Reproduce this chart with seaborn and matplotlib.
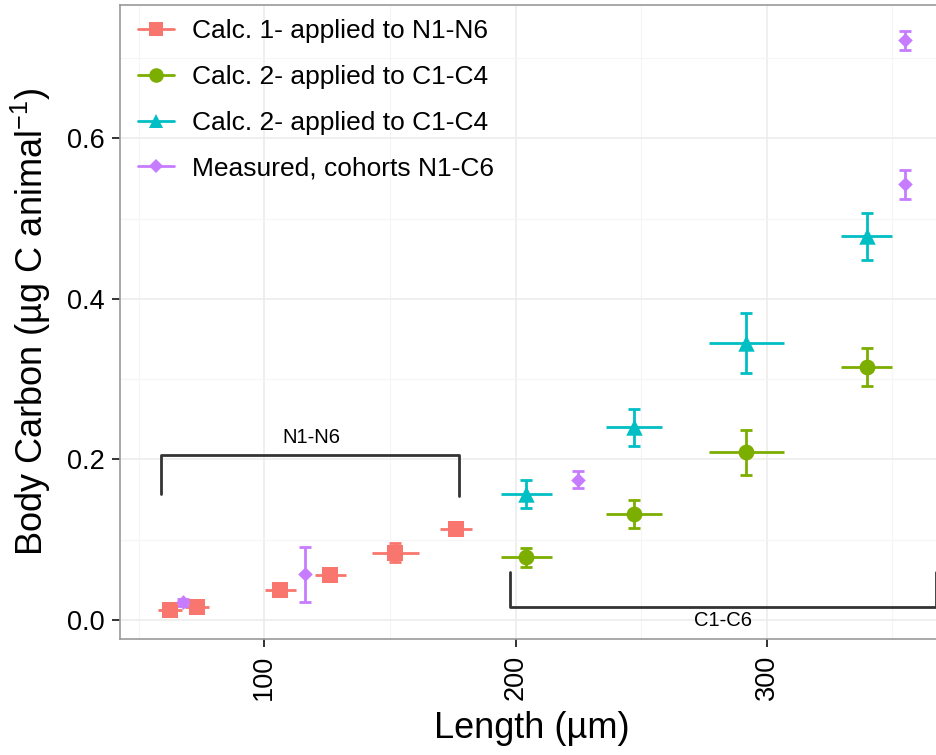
import matplotlib
matplotlib.use('Agg')
import matplotlib.pyplot as plt
import matplotlib.ticker as mticker
from matplotlib.lines import Line2D
import pandas as pd
import seaborn as sns

# --- dados ---
calc1_len = [62.5, 73.3, 106.4, 126.3, 152.2, 176.3]
calc1_carbon = [0.012, 0.016, 0.037, 0.056, 0.084, 0.114]
calc1_len_err = [4.9, 4.8, 6.1, 6.2, 9.2, 6.2]
calc1_carbon_err = [0.004, 0.004, 0.005, 0.005, 0.012, 0.006]

cop_len = [204.3, 247.0, 291.9, 339.7]
cop_len_err = [10.1, 11.1, 15.1, 10.3]
calc2a_carbon = [0.078, 0.132, 0.209, 0.315]
calc2a_carbon_err = [0.0115, 0.017, 0.028, 0.024]
calc2b_carbon = [0.157, 0.240, 0.345, 0.478]
calc2b_carbon_err = [0.0175, 0.023, 0.037, 0.029]

meas_len = [67.6, 116.3, 224.9, 355.1, 355.1]
meas_carbon = [0.022, 0.057, 0.175, 0.543, 0.722]
meas_carbon_err = [0.004, 0.034, 0.011, 0.018, 0.012]

labels = ['Calc. 1- applied to N1-N6', 'Calc. 2- applied to C1-C4',
          'Calc. 2- applied to C1-C4', 'Measured, cohorts N1-C6']
cores = ['#F8766D', '#7CAE00', '#00BFC4', '#C77CFF']
marcadores = ['s', 'o', '^', 'D']
tamanhos = [130, 130, 140, 55]

# colchetes (anotacao)
naup_bracket_x = [59.0, 59.0, 177.7, 177.7]
naup_bracket_y = [0.157, 0.206, 0.206, 0.155]
cope_bracket_x = [197.7, 197.7, 367.3, 367.3]
cope_bracket_y = [0.060, 0.0166, 0.0166, 0.060]

sns.set_theme(style='white')
plt.rcParams['font.family'] = ['Liberation Sans', 'DejaVu Sans']
plt.rcParams['text.color'] = 'black'
plt.rcParams['mathtext.fontset'] = 'custom'
plt.rcParams['mathtext.rm'] = 'Liberation Sans'
plt.rcParams['mathtext.it'] = 'Liberation Sans'

series = [
    (calc1_len, calc1_carbon, calc1_len_err, calc1_carbon_err),
    (cop_len, calc2a_carbon, cop_len_err, calc2a_carbon_err),
    (cop_len, calc2b_carbon, cop_len_err, calc2b_carbon_err),
    (meas_len, meas_carbon, None, meas_carbon_err),
]

fig = plt.figure(figsize=(9.36, 7.55), dpi=100)
ax = fig.add_axes([0.1282, 0.1532, 0.879, 0.8401])

for i, (x, y, xe, ye) in enumerate(series):
    # barras verticais com cap
    ax.errorbar(x, y, yerr=ye, fmt='none', ecolor=cores[i],
                elinewidth=2.0, capsize=4.3, capthick=2.0, zorder=3)
    # barras horizontais sem cap
    if xe is not None:
        ax.errorbar(x, y, xerr=xe, fmt='none', ecolor=cores[i],
                    elinewidth=2.0, capsize=0, zorder=3)
    d = pd.DataFrame({'Length': x, 'Carbon': y})
    sns.scatterplot(data=d, x='Length', y='Carbon', color=cores[i], marker=marcadores[i],
                    s=tamanhos[i], linewidth=0, legend=False, ax=ax, zorder=4)

ax.plot(naup_bracket_x, naup_bracket_y, color='#333333', lw=2.0, zorder=2)
ax.plot(cope_bracket_x, cope_bracket_y, color='#333333', lw=2.0, zorder=2, clip_on=False)
ax.text(118.7, 0.228, 'N1-N6', ha='center', va='center', fontsize=14.5)
ax.text(282.5, 0.0, 'C1-C6', ha='center', va='center', fontsize=14.5)

ax.set_xlim(42.6, 370)
ax.set_ylim(-0.024, 0.766)
ax.xaxis.set_major_locator(mticker.FixedLocator([100, 200, 300]))
ax.xaxis.set_minor_locator(mticker.FixedLocator([50, 150, 250, 350]))
ax.yaxis.set_major_locator(mticker.FixedLocator([0.0, 0.2, 0.4, 0.6]))
ax.yaxis.set_minor_locator(mticker.FixedLocator([0.1, 0.3, 0.5, 0.7]))
ax.yaxis.set_major_formatter(mticker.FormatStrFormatter('%.1f'))
ax.grid(which='major', color='#EBEBEB', lw=1.1, zorder=0)
ax.grid(which='minor', color='#F5F5F5', lw=0.8, zorder=0)
ax.set_axisbelow(True)
for sp in ax.spines.values():
    sp.set_color('#9A9A9A')
    sp.set_linewidth(1.2)

ax.tick_params(which='major', direction='out', length=5.5, width=1.4, color='#333333',
               labelsize=19.5, labelcolor='black', pad=5.5, left=True, bottom=True)
ax.tick_params(which='minor', length=0)
plt.setp(ax.get_xticklabels(), rotation=90, va='top', ha='center')

ax.set_xlabel('Length (µm)', fontsize=26, labelpad=8, color='black')
ax.set_ylabel('Body Carbon (µg C animal$^{-1}$)', fontsize=26, labelpad=10, color='black')

handles = []
for c, m in zip(cores, marcadores):
    handles.append(Line2D([0], [0], color=c, lw=2.0, marker=m,
                          markersize=10.5 if m != 'D' else 7, markeredgewidth=0))
leg = ax.legend(handles, labels, loc='upper left', bbox_to_anchor=(0.022, 0.978),
                frameon=False, fontsize=19, handlelength=1.36, handletextpad=0.68,
                labelspacing=0.83, borderpad=0, borderaxespad=0)
for t in leg.get_texts():
    t.set_color('black')

fig.savefig('out.png', dpi=100)
plt.close(fig)
